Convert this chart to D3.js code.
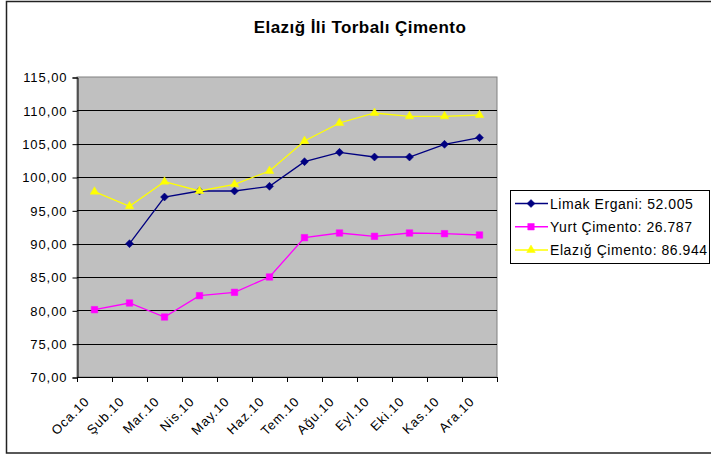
<!DOCTYPE html>
<html lang="tr">
<head>
<meta charset="UTF-8">
<title>Elazığ İli Torbalı Çimento</title>
<script src="https://cdn.jsdelivr.net/npm/d3@7/dist/d3.min.js"></script>
<style>
    body { margin: 0; background: #fff; }
    text { font-family: Arial, "Liberation Sans", sans-serif; fill: #000; }
</style>
</head>
<body>
<div id="chart"></div>
<script>
    /* global d3 */

    var months = ["Oca.10", "Şub.10", "Mar.10", "Nis.10", "May.10", "Haz.10",
                  "Tem.10", "Ağu.10", "Eyl.10", "Eki.10", "Kas.10", "Ara.10"];

    var limak  = [null, 90.0, 97.0, 97.9, 97.9, 98.6, 102.3, 103.7, 103.0, 103.0, 104.9, 105.9];
    var yurt   = [80.1, 81.1, 79.0, 82.2, 82.7, 85.0, 90.9, 91.6, 91.1, 91.6, 91.5, 91.3];
    var elazig = [97.8, 95.6, 99.3, 97.9, 98.9, 100.9, 105.4, 108.1, 109.6, 109.1, 109.1, 109.3];

    var seriesNames = ["Limak Ergani: 52.005", "Yurt Çimento: 26.787", "Elazığ Çimento: 86.944"];
    var yTicks = [70, 75, 80, 85, 90, 95, 100, 105, 110, 115];

    // excel-like diamond (square turned 45deg)
    var diamond = {
        draw: function(ctx, size) {
            var r = Math.sqrt(size / 2);
            ctx.moveTo(0, -r);
            ctx.lineTo(r, 0);
            ctx.lineTo(0, r);
            ctx.lineTo(-r, 0);
            ctx.closePath();
        }
    };

    var series = [
        { name: seriesNames[0], values: limak,  color: "#000080", symbol: diamond, size: 32 },
        { name: seriesNames[1], values: yurt,   color: "#FF00FF", symbol: d3.symbolSquare,  size: 42 },
        { name: seriesNames[2], values: elazig, color: "#FFFF00", symbol: d3.symbolTriangle, size: 32 }
    ];

    var width = 711, height = 454;
    var plot = { left: 77, top: 77, right: 497, bottom: 377 };

    var svg = d3.select("#chart").append("svg")
        .attr("width", width)
        .attr("height", height);

    // outer chart border (runs off the right edge like the original)
    svg.append("rect")
        .attr("x", 6.5).attr("y", 1.5)
        .attr("width", 720).attr("height", 451.5)
        .attr("fill", "#fff")
        .attr("stroke", "#222")
        .attr("stroke-width", 1.5);

    svg.append("text")
        .attr("x", 360).attr("y", 33)
        .attr("text-anchor", "middle")
        .style("font-size", "17px")
        .style("font-weight", "bold")
        .style("letter-spacing", "0.45px")
        .text("Elazığ İli Torbalı Çimento");

    var x = d3.scaleBand()
        .domain(months)
        .range([plot.left, plot.right])
        .padding(0);

    var y = d3.scaleLinear()
        .domain([70, 115])
        .range([plot.bottom, plot.top]);

    svg.append("rect")
        .attr("x", plot.left).attr("y", plot.top)
        .attr("width", plot.right - plot.left)
        .attr("height", plot.bottom - plot.top)
        .attr("fill", "#C0C0C0")
        .attr("stroke", "#808080")
        .attr("stroke-width", 1);

    // gridlines
    svg.append("g")
        .selectAll("line")
        .data(yTicks.filter(function(d) { return d > 70 && d < 115; }))
        .enter().append("line")
        .attr("x1", plot.left).attr("x2", plot.right)
        .attr("y1", function(d) { return Math.round(y(d)) + 0.5; })
        .attr("y2", function(d) { return Math.round(y(d)) + 0.5; })
        .attr("stroke", "#000")
        .attr("stroke-width", 1);

    // y axis
    var yAxis = svg.append("g")
        .attr("transform", "translate(" + (plot.left + 0.5) + ",0.5)")
        .call(d3.axisLeft(y)
            .tickValues(yTicks)
            .tickSize(5)
            .tickPadding(6)
            .tickFormat(function(d) { return d3.format(".2f")(d).replace(".", ","); }));
    yAxis.select(".domain").attr("stroke", "#000");
    yAxis.selectAll("text")
        .attr("dx", "0.9px")
        .style("font-size", "13px")
        .style("letter-spacing", "0.9px")
        .style("font-family", "Arial, 'Liberation Sans', sans-serif");

    // x axis line and ticks between categories
    var xa = svg.append("g");
    xa.append("line")
        .attr("x1", plot.left).attr("x2", plot.right)
        .attr("y1", plot.bottom + 0.5).attr("y2", plot.bottom + 0.5)
        .attr("stroke", "#000");
    var bounds = months.map(function(m) { return x(m); }).concat([plot.right]);
    xa.selectAll("line.tick")
        .data(bounds)
        .enter().append("line")
        .attr("class", "tick")
        .attr("x1", function(d) { return Math.round(d) + 0.5; })
        .attr("x2", function(d) { return Math.round(d) + 0.5; })
        .attr("y1", plot.bottom).attr("y2", plot.bottom + 5)
        .attr("stroke", "#000");

    xa.selectAll("text")
        .data(months)
        .enter().append("text")
        .attr("transform", function(d) {
            return "translate(" + (x(d) + x.bandwidth() / 2 - 5) + "," + (plot.bottom + 26) + ") rotate(-45)";
        })
        .attr("text-anchor", "end")
        .attr("dx", "0.9px")
        .style("font-size", "13px")
        .style("letter-spacing", "0.9px")
        .text(function(d) { return d; });

    var line = d3.line()
        .defined(function(d) { return d != null; })
        .x(function(d, i) { return x(months[i]) + x.bandwidth() / 2; })
        .y(function(d) { return y(d); });

    series.forEach(function(s) {
        var g = svg.append("g");
        g.append("path")
            .datum(s.values)
            .attr("fill", "none")
            .attr("stroke", s.color)
            .attr("stroke-width", 1.3)
            .attr("d", line);
        g.selectAll("path.pt")
            .data(s.values.map(function(v, i) { return { v: v, i: i }; })
                .filter(function(d) { return d.v != null; }))
            .enter().append("path")
            .attr("class", "pt")
            .attr("transform", function(d) {
                return "translate(" + (x(months[d.i]) + x.bandwidth() / 2) + "," + y(d.v) + ")";
            })
            .attr("d", d3.symbol().type(s.symbol).size(s.size))
            .attr("fill", s.color)
            .attr("stroke", s.color)
            .attr("stroke-width", 0.5);
    });

    // legend
    var legend = svg.append("g");
    legend.append("rect")
        .attr("x", 510.5).attr("y", 190.5)
        .attr("width", 199).attr("height", 73)
        .attr("fill", "#fff")
        .attr("stroke", "#000");

    var rowY = d3.scalePoint()
        .domain(seriesNames)
        .range([203.5, 250]);

    series.forEach(function(s) {
        var cy = rowY(s.name);
        legend.append("line")
            .attr("x1", 515).attr("x2", 548)
            .attr("y1", cy).attr("y2", cy)
            .attr("stroke", s.color)
            .attr("stroke-width", 1.3);
        legend.append("path")
            .attr("transform", "translate(531," + cy + ")")
            .attr("d", d3.symbol().type(s.symbol).size(s.size))
            .attr("fill", s.color)
            .attr("stroke", s.color)
            .attr("stroke-width", 0.5);
        legend.append("text")
            .attr("x", 550).attr("y", cy + 5)
            .style("font-size", "14px")
            .style("letter-spacing", "0.55px")
            .text(s.name);
    });
</script>
</body>
</html>
